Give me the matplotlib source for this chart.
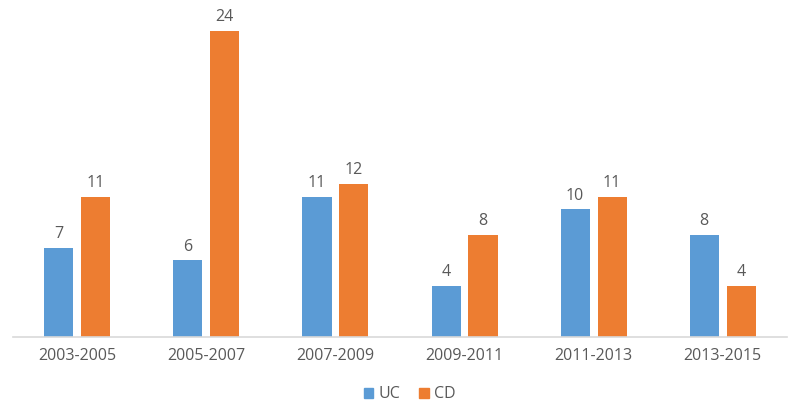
import numpy as np
import matplotlib

matplotlib.use("Agg")
import matplotlib.pyplot as plt
from matplotlib.patches import Patch

periods = ["2003-2005", "2005-2007", "2007-2009", "2009-2011", "2011-2013", "2013-2015"]
uc_values = [7, 6, 11, 4, 10, 8]
cd_values = [11, 24, 12, 8, 11, 4]

BLUE = "#5B9BD5"
ORANGE = "#ED7D31"
TEXT = "#595959"

plt.rcParams["font.family"] = ["Open Sans", "DejaVu Sans"]

fig = plt.figure(figsize=(8, 4.13), dpi=100)
ax = fig.add_axes([0.016, 0.184, 0.968, 0.803])

x = np.arange(len(periods))
width = 0.225
offset = 0.143
bars_uc = ax.bar(x - offset, uc_values, width, color=BLUE, label="UC")
bars_cd = ax.bar(x + offset, cd_values, width, color=ORANGE, label="CD")

for bars in (bars_uc, bars_cd):
    ax.bar_label(bars, padding=4, fontsize=11.5, color=TEXT)

ax.set_xlim(-0.5, len(periods) - 0.5)
ax.set_ylim(0, 26)
ax.set_yticks([])
ax.set_xticks(x)
ax.set_xticklabels(periods, fontsize=11.5, color=TEXT)
ax.tick_params(axis="x", length=0, pad=8)
for side in ("top", "right", "left"):
    ax.spines[side].set_visible(False)
ax.spines["bottom"].set_color("#D9D9D9")
ax.spines["bottom"].set_linewidth(1.2)

handles = [Patch(color=BLUE, label="UC"), Patch(color=ORANGE, label="CD")]
fig.legend(handles=handles, loc="center", bbox_to_anchor=(0.512, 0.045), ncol=2,
           frameon=False, fontsize=11.5, labelcolor=TEXT, handlelength=0.6,
           handleheight=0.6, handletextpad=0.3, columnspacing=1.2)

fig.savefig("out.png", dpi=100)
